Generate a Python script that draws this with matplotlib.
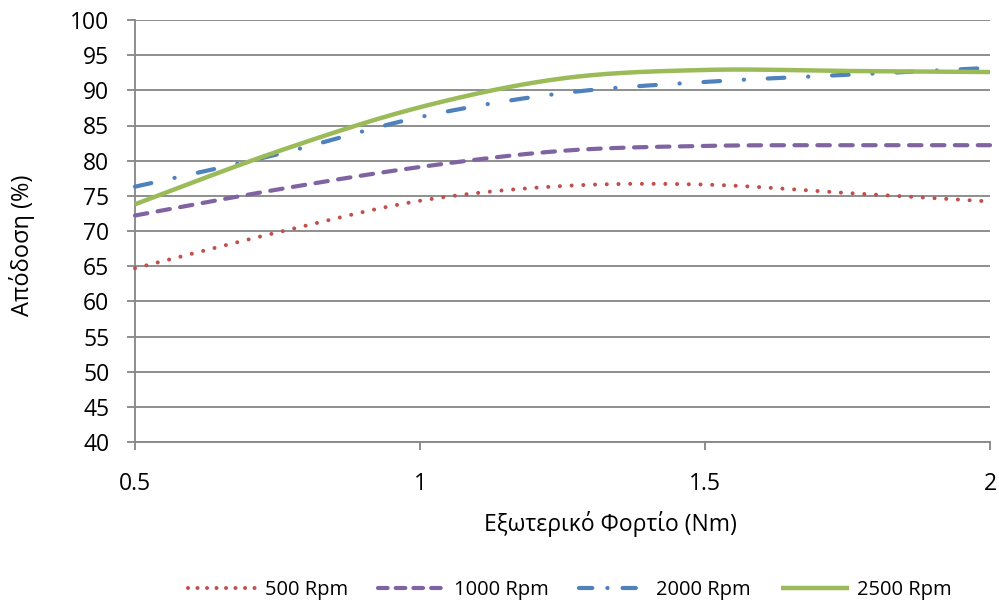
import numpy as np
import matplotlib
matplotlib.use("Agg")
import matplotlib.pyplot as plt
from matplotlib.lines import Line2D

plt.rcParams['font.family'] = ['Open Sans', 'DejaVu Sans']

load = [0.5, 0.75, 1.0, 1.25, 1.5, 1.75, 2.0]
eff_500 = [64.7, 69.8, 74.3, 76.4, 76.6, 75.4, 74.2]
eff_1000 = [72.2, 75.9, 79.1, 81.4, 82.1, 82.2, 82.2]
eff_2000 = [76.3, 80.9, 86.2, 89.6, 91.2, 92.2, 93.2]
eff_2500 = [73.8, 81.3, 87.6, 91.7, 92.9, 92.75, 92.6]

labels = ['500 Rpm', '1000 Rpm', '2000 Rpm', '2500 Rpm']
colors = ['#C0504D', '#8064A2', '#4F81BD', '#9BBB59']
yticks = list(range(40, 101, 5))
xticks = [0.5, 1, 1.5, 2]
xtick_labels = ['0.5', '1', '1.5', '2']


def smooth(xs, ys, n=40):
    # bezier smoothing through the points, like a spreadsheet "smoothed line"
    pts = np.column_stack([xs, ys]).astype(float)
    p = np.vstack([pts[0], pts, pts[-1]])
    t = np.linspace(0, 1, n)[:, None]
    out = []
    for i in range(1, len(p) - 2):
        p0, p1, p2, p3 = p[i - 1], p[i], p[i + 1], p[i + 2]
        c1 = p1 + (p2 - p0) / 6
        c2 = p2 - (p3 - p1) / 6
        seg = ((1 - t) ** 3) * p1 + 3 * (1 - t) ** 2 * t * c1 + 3 * (1 - t) * t ** 2 * c2 + t ** 3 * p2
        out.append(seg if i == 1 else seg[1:])
    out = np.vstack(out)
    return out[:, 0], out[:, 1]


fig = plt.figure(figsize=(9.99, 6.05), dpi=100)
ax = fig.add_axes([135 / 999, 1 - 442 / 605, 855 / 999, 422 / 605])

styles = [
    dict(lw=2.9, linestyle=(0, (0.01, 2.9)), dash_capstyle='round'),
    dict(lw=3.0, linestyle=(0, (3.0, 2.5)), dash_capstyle='round'),
    dict(lw=3.0, linestyle=(0, (4.0, 5.7, 0.05, 5.7)), dash_capstyle='round'),
    dict(lw=3.2, linestyle='-', solid_capstyle='butt'),
]
# the legend samples use a tighter dash rhythm
legend_styles = [
    dict(lw=2.9, linestyle=(0, (0.01, 2.35)), dash_capstyle='round'),
    dict(lw=3.0, linestyle=(0, (2.3, 1.95)), dash_capstyle='round'),
    dict(lw=3.0, linestyle=(0, (3.2, 3.6, 0.05, 3.6)), dash_capstyle='round'),
    dict(lw=3.2, linestyle='-', solid_capstyle='butt'),
]
series = [eff_500, eff_1000, eff_2000, eff_2500]
handles = []
for ys, lab, col, st, lst in zip(series, labels, colors, styles, legend_styles):
    sx, sy = smooth(load, ys)
    ax.plot(sx, sy, color=col, clip_on=False, zorder=3, **st)
    handles.append(Line2D([], [], color=col, label=lab, **lst))

ax.set_xlim(0.5, 2)
ax.set_ylim(40, 100)
ax.set_yticks(yticks)
ax.set_xticks(xticks)
ax.set_xticklabels(xtick_labels)

grid_col = '#868686'
ax.yaxis.grid(True, color=grid_col, lw=1.3)
ax.set_axisbelow(True)
for s in ['top', 'right']:
    ax.spines[s].set_visible(False)
for s in ['left', 'bottom']:
    ax.spines[s].set_color(grid_col)
    ax.spines[s].set_linewidth(1.3)
ax.tick_params(axis='y', length=5.5, width=1.3, color=grid_col, pad=13, labelsize=16.5, labelcolor='black')
ax.tick_params(axis='x', length=5.5, width=1.3, color=grid_col, pad=16, labelsize=16.5, labelcolor='black')

fig.text(22 / 999, 1 - 245 / 605, 'Απόδοση (%)', rotation=90, ha='center', va='center', fontsize=17)
fig.text(610 / 999, 1 - 524 / 605, 'Εξωτερικό Φορτίο (Nm)', ha='center', va='center', fontsize=16.5)

fig.legend(handles=handles, loc='center', bbox_to_anchor=(570 / 999, 1 - 590 / 605), ncol=4, frameon=False,
           fontsize=14.5, handlelength=3.4, handletextpad=0.4, columnspacing=1.5)

fig.savefig('out.png', dpi=100)
